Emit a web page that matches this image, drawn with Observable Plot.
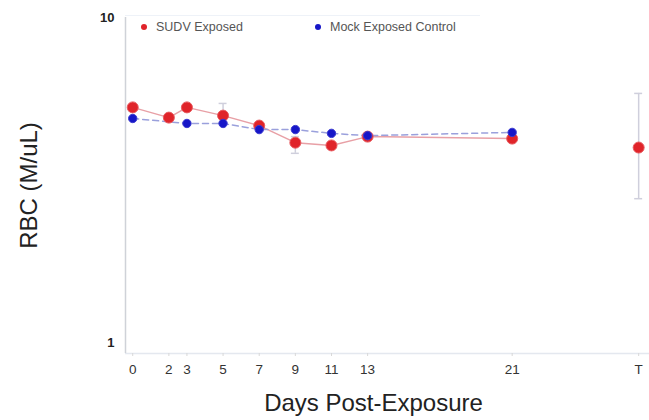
<!DOCTYPE html>
<html>
<head>
<meta charset="utf-8">
<script src="https://cdn.jsdelivr.net/npm/d3@7"></script>
<script src="https://cdn.jsdelivr.net/npm/@observablehq/plot@0.6"></script>
<style>
  body { margin: 0; background: #fff; }
  #wrap { position: relative; width: 649px; height: 420px; font-family: "Liberation Sans", Arial, sans-serif; }
  #legend { position: absolute; left: 125px; top: 15px; width: 355px; height: 24px; border-top: 1px solid #eef2f8; font-size: 12.5px; color: #555; }
  .item { position: absolute; top: 4px; white-space: nowrap; }
  .sw { display: inline-block; width: 6px; height: 6px; border-radius: 50%; margin-right: 9px; vertical-align: 1px; }
</style>
</head>
<body>
<div id="wrap"></div>
<script>
// Data
const days = [0, 2, 3, 5, 7, 9, 11, 13, 21, 28];
const dayLabels = ["0", "2", "3", "5", "7", "9", "11", "13", "21", "T"];
const sudvMean = [5.29, 4.92, 5.29, 4.99, 4.65, 4.12, 4.04, 4.30, 4.24, 3.98];
const sudvLow  = [5.15, 4.80, 5.15, 4.75, 4.55, 3.82, 3.95, 4.20, 4.15, 2.77];
const sudvHigh = [5.40, 5.02, 5.40, 5.44, 4.75, 4.30, 4.12, 4.40, 4.33, 5.84];
const mockDays = [0, 3, 5, 7, 9, 11, 13, 21];
const mockMean = [4.89, 4.72, 4.72, 4.52, 4.52, 4.40, 4.33, 4.43];
const yTicks = [1, 10];

const red = "#e0242a";
const blue = "#1616c8";

const sudv = days.map((d, i) => ({day: d, v: sudvMean[i], lo: sudvLow[i], hi: sudvHigh[i]}));
const sudvLine = sudv.filter(d => d.day <= 21);
const mock = mockDays.map((d, i) => ({day: d, v: mockMean[i]}));

const chart = Plot.plot({
  width: 649,
  height: 420,
  marginLeft: 125,
  marginRight: 0,
  marginTop: 17,
  marginBottom: 67,
  style: {fontFamily: "Liberation Sans, Arial, sans-serif", background: "transparent"},
  x: {domain: [-0.4, 28.6]},
  y: {type: "log", domain: [0.925, 10]},
  marks: [
    Plot.ruleY([0.925], {stroke: "#e4e8ef", strokeWidth: 1.5}),
    Plot.ruleX([-0.4], {y1: 0.925, y2: 10, stroke: "#cfd2d8", strokeWidth: 1.5}),
    Plot.axisX({
      ticks: days, tickFormat: (d, i) => dayLabels[days.indexOf(d)],
      tickSize: 3, tickPadding: 8, fontSize: 13.5, stroke: "#d8d8d8", fill: "#333",
      label: "Days Post-Exposure", labelAnchor: "center", labelArrow: "none", labelOffset: 57
    }),
    Plot.axisY({
      ticks: yTicks, tickFormat: d => String(d), tickSize: 0, tickPadding: 11, fontSize: 13, fill: "#222", fontWeight: "bold",
      label: "RBC (M/uL)", labelAnchor: "center", labelArrow: "none", labelOffset: 106
    }),
    Plot.ruleX(sudv, {x: "day", y1: "lo", y2: "hi", stroke: "#cfcfdc", strokeWidth: 1.5}),
    Plot.ruleY(sudv, {y: "lo", x1: d => d.day - 0.22, x2: d => d.day + 0.22, stroke: "#cfcfdc", strokeWidth: 1.5}),
    Plot.ruleY(sudv, {y: "hi", x1: d => d.day - 0.22, x2: d => d.day + 0.22, stroke: "#cfcfdc", strokeWidth: 1.5}),
    Plot.line(sudvLine, {x: "day", y: "v", stroke: "#e8a0a6", strokeWidth: 1.5}),
    Plot.line(mock, {x: "day", y: "v", stroke: "#9aa0dc", strokeWidth: 1.5, strokeDasharray: "6,4"}),
    Plot.dot(sudv, {x: "day", y: "v", r: 5.5, fill: red, stroke: "#e85a5e", strokeWidth: 1}),
    Plot.dot(mock, {x: "day", y: "v", r: 4.2, fill: blue, stroke: "#3a3ad0", strokeWidth: 1})
  ]
});
chart.querySelectorAll("g[aria-label='x-axis label'], g[aria-label='y-axis label']").forEach(g => {
  g.setAttribute("font-weight", "normal");
  g.setAttribute("font-size", "24");
  g.querySelectorAll("text").forEach(t => {
    t.setAttribute("font-size", "24");
    t.style.fontSize = "24px";
    t.style.fontWeight = "normal";
    t.setAttribute("fill", "#222");
  });
});
chart.querySelectorAll("g[aria-label='x-axis label'] text").forEach(t => t.setAttribute("dx", "-14"));
const wrap = document.getElementById("wrap");
wrap.appendChild(chart);
const legend = document.createElement("div");
legend.id = "legend";
legend.innerHTML =
  `<div class="item" style="left:16px"><span class="sw" style="background:${red}"></span>SUDV Exposed</div>` +
  `<div class="item" style="left:190px"><span class="sw" style="background:${blue}"></span>Mock Exposed Control</div>`;
wrap.appendChild(legend);
</script>
</body>
</html>
